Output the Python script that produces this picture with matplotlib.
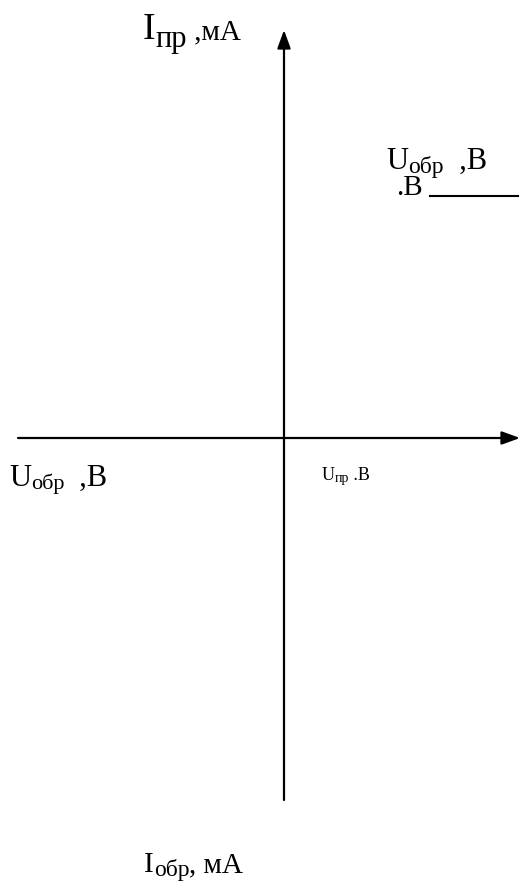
import matplotlib
matplotlib.use("Agg")
import matplotlib.pyplot as plt

plt.rcParams['font.family'] = ['Liberation Serif', 'DejaVu Serif']

# Diagram extents (drawing units = pixels of the 520x896 canvas)
x_axis = [18, 520]      # horizontal axis start/end (at origin_y)
y_axis = [800, 30]      # vertical axis start/end (at origin_x)
origin = [284, 438]

# labels: (main, sub, tail)
labels = {
    "I_pr": ("I", "пр", " ,мА"),
    "U_obr_right": ("U", "обр", "  ,В"),
    "U_obr_left": ("U", "обр", "  ,В"),
    "U_pr": ("U", "пр", " .В"),
    "I_obr": ("I", "обр", ", мА"),
}
extra_text = ".В"
extra_line = [430, 518]

fig = plt.figure(figsize=(5.2, 8.96), dpi=100)
ax = fig.add_axes([0, 0, 1, 1])
ax.set_xlim(0, 520)
ax.set_ylim(896, 0)
ax.axis('off')

arrow = dict(arrowstyle="-|>,head_length=1.1,head_width=0.4",
             lw=1.6, color='black', shrinkA=0, shrinkB=0)
ax.annotate("", xy=(x_axis[1], origin[1]), xytext=(x_axis[0], origin[1]),
            arrowprops=arrow, annotation_clip=False)
ax.annotate("", xy=(origin[0], y_axis[1]), xytext=(origin[0], y_axis[0]),
            arrowprops=arrow, annotation_clip=False)

fig.canvas.draw()
renderer = fig.canvas.get_renderer()
inv = ax.transData.inverted()


def right_edge(t):
    bb = t.get_window_extent(renderer)
    return inv.transform((bb.x1, bb.y0))[0]


def label(key, x, y, big, small, tail_size, sub_drop):
    main, sub, tail = labels[key]
    t = ax.text(x, y, main, fontsize=big, va='baseline', ha='left')
    x1 = right_edge(t)
    t2 = ax.text(x1, y + sub_drop, sub, fontsize=small, va='baseline', ha='left')
    x2 = right_edge(t2)
    ax.text(x2, y, tail, fontsize=tail_size, va='baseline', ha='left')


label("I_pr", 143, 39, 27, 22, 21, 8)
label("U_obr_right", 386, 169, 22, 17, 22, 4)
ax.text(396, 195, extra_text, fontsize=21, va='baseline', ha='left')
ax.plot(extra_line, [196, 196], color='black', lw=1.5)
label("U_obr_left", 9, 486, 22, 16, 22, 3)
label("U_pr", 322, 480, 13, 10, 13, 2)
label("I_obr", 144, 872, 21, 17, 21, 4)

fig.savefig("out.png", dpi=100)
